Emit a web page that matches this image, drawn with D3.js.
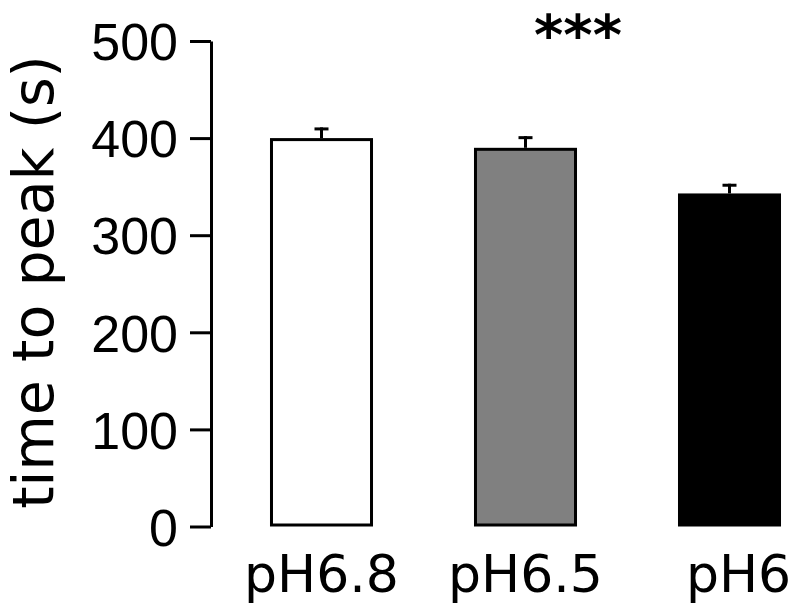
<!DOCTYPE html>
<html>
<head>
<meta charset="utf-8">
<script src="https://cdn.jsdelivr.net/npm/d3@7"></script>
<style>
  html, body { margin: 0; padding: 0; background: #fff; }
  svg { display: block; }
</style>
</head>
<body>
<svg id="chart" width="792" height="611"></svg>
<script>
const categories = ["pH6.8", "pH6.5", "pH6"];
const means = [400, 390, 343];
const errors = [11, 12, 10];
const fills = ["#ffffff", "#808080", "#000000"];
const yTicks = [0, 100, 200, 300, 400, 500];
const yLabel = "time to peak (s)";
const significance = "***";

const svg = d3.select("#chart");
const axisX = 211;

const y = d3.scaleLinear().domain([0, 500]).range([526.5, 41]);
const x = d3.scaleBand().domain(categories)
  .range([219.5, 831.5]).paddingInner(0.495).paddingOuter(0.2475);

// Bars
svg.append("g").selectAll("rect").data(categories).join("rect")
  .attr("x", d => x(d) + 1.5)
  .attr("y", (d, i) => y(means[i]) + 1.5)
  .attr("width", x.bandwidth() - 3)
  .attr("height", (d, i) => y(0) - y(means[i]) - 3)
  .attr("fill", (d, i) => fills[i])
  .attr("stroke", "#000")
  .attr("stroke-width", 3);

// Error bars
const eg = svg.append("g").attr("stroke", "#000").attr("stroke-width", 3);
categories.forEach((c, i) => {
  const cx = x(c) + x.bandwidth() / 2;
  eg.append("line").attr("x1", cx).attr("x2", cx)
    .attr("y1", y(means[i])).attr("y2", y(means[i] + errors[i]) );
  eg.append("line").attr("x1", cx - 7).attr("x2", cx + 7)
    .attr("y1", y(means[i] + errors[i]) + 1.5).attr("y2", y(means[i] + errors[i]) + 1.5);
});

// Y axis
const yAxis = d3.axisLeft(y).tickValues(yTicks).tickSize(21).tickSizeOuter(0).tickPadding(12);
const ga = svg.append("g").attr("transform", `translate(${axisX},0)`).call(yAxis);
ga.select(".domain").attr("stroke", "#000").attr("stroke-width", 3);
ga.selectAll(".tick line").attr("stroke", "#000").attr("stroke-width", 3);
ga.selectAll(".tick text")
  .attr("font-family", "'Liberation Sans', Arial, sans-serif")
  .attr("font-size", 52)
  .attr("fill", "#000")
  .attr("dy", "0.36em");

// Y label
svg.append("text")
  .attr("transform", "translate(53,282) rotate(-90)")
  .attr("text-anchor", "middle")
  .attr("font-family", "'DejaVu Sans', sans-serif")
  .attr("font-size", 57)
  .attr("fill", "#000")
  .text(yLabel);

// X labels
const xOffsets = [0, 0, 9];
svg.append("g").selectAll("text").data(categories).join("text")
  .attr("x", (d, i) => x(d) + x.bandwidth() / 2 + xOffsets[i])
  .attr("y", 592)
  .attr("text-anchor", "middle")
  .attr("font-family", "'DejaVu Sans', sans-serif")
  .attr("font-size", 52)
  .attr("fill", "#000")
  .text(d => d);

// Significance
svg.append("text")
  .attr("x", 578)
  .attr("y", 54)
  .attr("text-anchor", "middle")
  .attr("font-family", "'DejaVu Sans', sans-serif")
  .attr("font-weight", "bold")
  .attr("font-size", 56)
  .attr("fill", "#000")
  .text(significance);
</script>
</body>
</html>
